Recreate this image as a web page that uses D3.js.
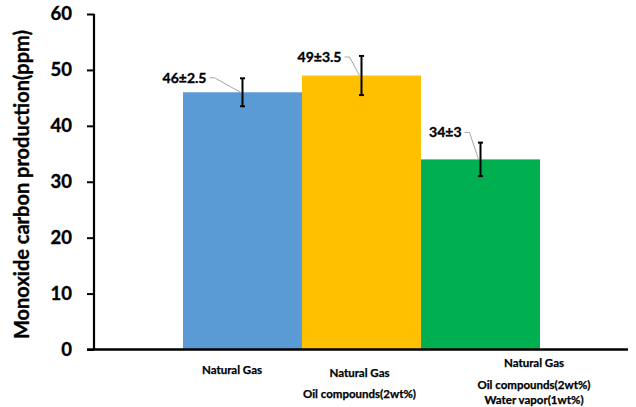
<!DOCTYPE html>
<html><head><meta charset="utf-8">
<script src="https://cdn.jsdelivr.net/npm/d3@7"></script>
<style>body{margin:0;background:#fff}svg{display:block}text{font-family:Lato,"Open Sans",sans-serif;font-weight:bold;stroke:#000;stroke-width:0.35px;fill:#000}</style>
</head><body>
<script>
const categories = ["Natural Gas", "Natural Gas|Oil compounds(2wt%)", "Natural Gas|Oil compounds(2wt%)|Water vapor(1wt%)"];
const values = [46, 49, 34];
const errors = [2.5, 3.5, 3];
const dataLabels = ["46±2.5", "49±3.5", "34±3"];
const colors = ["#5B9BD5", "#FFC000", "#00B050"];
const yTicks = [0, 10, 20, 30, 40, 50, 60];
const yTitle = "Monoxide carbon production(ppm)";

const W = 636, H = 407;
const svg = d3.select("body").append("svg").attr("width", W).attr("height", H);

const y = d3.scaleLinear().domain([0, 60]).range([349.5, 14]);
const x = d3.scaleBand().domain(d3.range(categories.length)).range([183, 540]).padding(0);

// bars
svg.selectAll("rect.bar").data(values).join("rect")
  .attr("x", (d, i) => x(i)).attr("width", x.bandwidth())
  .attr("y", d => y(d)).attr("height", d => y(0) - y(d))
  .attr("fill", (d, i) => colors[i]);

// y axis
const yAxis = d3.axisLeft(y).tickValues(yTicks).tickSize(7).tickPadding(15);
const gy = svg.append("g").attr("transform", "translate(94,0)").call(yAxis);
gy.select(".domain").attr("stroke", "#000").attr("stroke-width", 2.2).attr("d", `M0,${y(60)}V${y(0)}`);
gy.selectAll(".tick line").attr("stroke", "#000").attr("stroke-width", 2);
gy.selectAll(".tick text").attr("font-size", 18.5).attr("fill", "#000").attr("font-family", "Lato").attr("font-weight", "bold");

// x axis line
svg.append("line").attr("x1", 87).attr("x2", 628).attr("y1", y(0)).attr("y2", y(0))
  .attr("stroke", "#000").attr("stroke-width", 2.4);

// error bars
const eb = svg.append("g").attr("stroke", "#000").attr("stroke-width", 2);
values.forEach((v, i) => {
  const cx = x(i) + x.bandwidth() / 2;
  eb.append("line").attr("x1", cx).attr("x2", cx).attr("y1", y(v + errors[i])).attr("y2", y(v - errors[i]));
  [v + errors[i], v - errors[i]].forEach(e => eb.append("line").attr("x1", cx - 2.5).attr("x2", cx + 2.5).attr("y1", y(e)).attr("y2", y(e)));
});

// data labels with leader lines
const labelOffsets = [[-36, -9.5], [-20, -13.5], [-19, -22]];
values.forEach((v, i) => {
  const cx = x(i) + x.bandwidth() / 2;
  const tx = cx + labelOffsets[i][0], ty = y(v) + labelOffsets[i][1];
  svg.append("text").attr("x", tx).attr("y", ty).attr("text-anchor", "end")
    .attr("font-size", 14).text(dataLabels[i]);
  svg.append("path").attr("fill", "none").attr("stroke", "#a6a6a6").attr("stroke-width", 1)
    .attr("d", `M${tx + 3},${ty - 5}H${tx + 8}L${cx - 2},${y(v)}`);
});

// x category labels
const labelPos = [[232, [370]], [359.5, [373, 394]], [534, [363, 385, 400]]];
categories.forEach((c, i) => {
  c.split("|").forEach((l, j) => {
    svg.append("text").attr("x", labelPos[i][0]).attr("y", labelPos[i][1][j] + 4)
      .attr("text-anchor", "middle").attr("font-size", 11.5).style("stroke-width", "0.25px").text(l);
  });
});

// y title
svg.append("text").attr("transform", `translate(29,184.5) rotate(-90)`)
  .attr("text-anchor", "middle").attr("font-size", 20).text(yTitle);
</script>
</body></html>
